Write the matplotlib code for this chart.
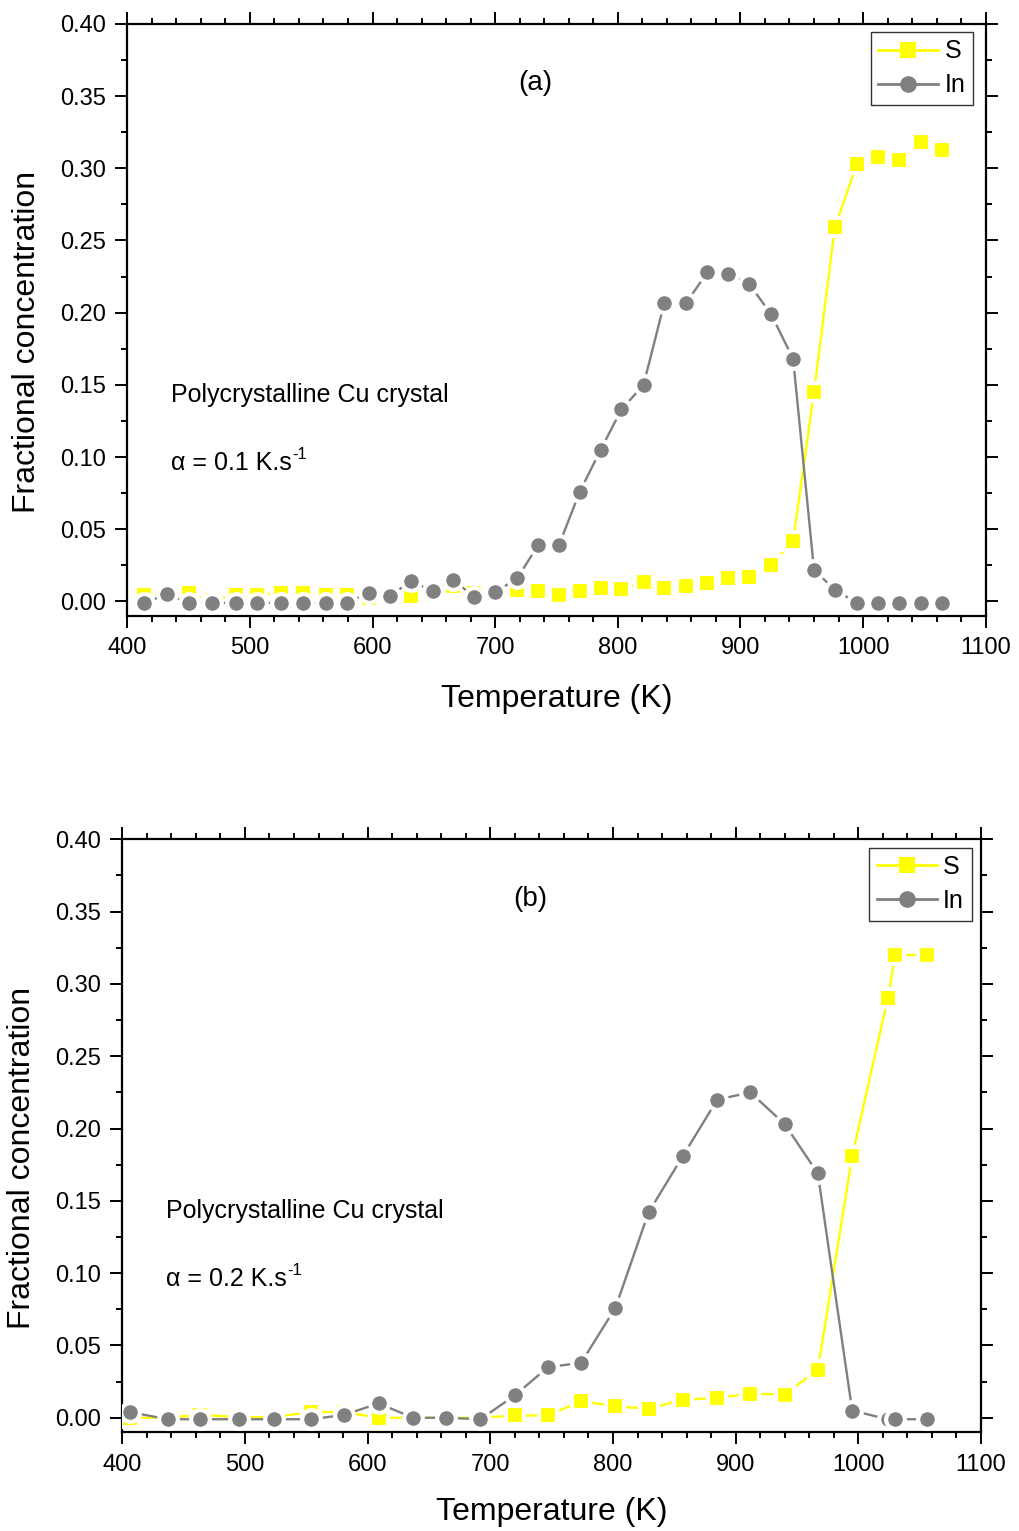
import matplotlib
matplotlib.use("Agg")
import matplotlib.pyplot as plt
from matplotlib.ticker import MultipleLocator, FormatStrFormatter

plt.rcParams['font.family'] = ['Liberation Sans', 'DejaVu Sans']
plt.rcParams['mathtext.default'] = 'regular'

# ---- Panel (a): alpha = 0.1 K/s ----
temp_a = [414, 432, 450, 469, 489, 506, 525, 543, 562, 579, 597, 614, 631, 649,
          666, 683, 700, 718, 735, 752, 769, 786, 803, 821, 838, 856, 873, 890,
          907, 925, 943, 960, 977, 995, 1012, 1029, 1047, 1064]
s_a = [0.0046, 0.005, 0.006, 0.001, 0.0046, 0.0046, 0.006, 0.006, 0.0046, 0.0046,
       0.0023, 0.0046, 0.0035, 0.007, 0.0104, 0.006, 0.006, 0.008, 0.007, 0.0046,
       0.007, 0.0093, 0.0086, 0.0134, 0.0093, 0.0104, 0.0127, 0.0162, 0.0169,
       0.0254, 0.042, 0.145, 0.259, 0.303, 0.308, 0.306, 0.318, 0.313]
in_a = [-0.001, 0.005, -0.001, -0.001, -0.001, -0.001, -0.001, -0.001, -0.001, -0.001,
        0.006, 0.0035, 0.014, 0.0074, 0.015, 0.003, 0.0065, 0.016, 0.039, 0.039,
        0.076, 0.105, 0.133, 0.150, 0.207, 0.207, 0.228, 0.227, 0.220, 0.199,
        0.168, 0.022, 0.008, -0.001, -0.001, -0.001, -0.001, -0.001]

# ---- Panel (b): alpha = 0.2 K/s ----
temp_b = [406, 437, 463, 495, 524, 554, 581, 609, 637, 664, 692, 720, 747, 774,
          802, 829, 857, 885, 912, 940, 967, 995, 1024, 1030, 1056]
s_b = [0.0, 0.0, 0.002, 0.0005, 0.0005, 0.004, 0.004, 0.0, 0.0, 0.0, 0.0, 0.0016,
       0.0016, 0.0115, 0.008, 0.0062, 0.0125, 0.0138, 0.0166, 0.0161, 0.0332,
       0.181, 0.290, 0.320, 0.320]
in_b = [0.004, -0.001, -0.001, -0.001, -0.001, -0.001, 0.002, 0.010, 0.0, 0.0,
        -0.001, 0.0155, 0.035, 0.038, 0.076, 0.142, 0.181, 0.220, 0.225, 0.203,
        0.169, 0.005, -0.001, -0.001, -0.001]

series_labels = ["S", "In"]
panel_tags = ["(a)", "(b)"]
rate_texts = ["α = 0.1 K.s", "α = 0.2 K.s"]
rate_exponent = "-1"
sample_text = "Polycrystalline Cu crystal"
xlabel = "Temperature (K)"
ylabel = "Fractional concentration"

YELLOW = "#FFFF00"
GRAY = "#808080"

fig = plt.figure(figsize=(10.19, 15.31), dpi=100)
ax_a = fig.add_axes([0.1249, 0.5977, 0.8424, 0.3867])
ax_b = fig.add_axes([0.1200, 0.0645, 0.8427, 0.3873])

panels = [
    (ax_a, temp_a, s_a, in_a, (0.985, 0.9865), -0.140),
    (ax_b, temp_b, s_b, in_b, (0.989, 0.986), -0.135),
]

for i, (ax, t, s, ind, leg_anchor, xl_y) in enumerate(panels):
    ax.plot(t, s, color=YELLOW, lw=1.7, marker='s', ms=12.5, mfc=YELLOW,
            mec='white', mew=3.0, label=series_labels[0], zorder=3)
    ax.plot(t, ind, color=GRAY, lw=1.7, marker='o', ms=13.5, mfc=GRAY,
            mec='white', mew=3.0, label=series_labels[1], zorder=4)

    ax.set_xlim(400, 1100)
    ax.set_ylim(-0.01, 0.40)
    ax.xaxis.set_major_locator(MultipleLocator(100))
    ax.xaxis.set_minor_locator(MultipleLocator(20))
    ax.yaxis.set_major_locator(MultipleLocator(0.05))
    ax.yaxis.set_minor_locator(MultipleLocator(0.025))
    ax.yaxis.set_major_formatter(FormatStrFormatter('%.2f'))
    ax.tick_params(which='both', direction='out', top=True, right=True,
                   width=1.4, labelsize=17)
    ax.tick_params(which='major', length=8.5)
    ax.tick_params(which='minor', length=4.3)
    ax.tick_params(axis='y', pad=7)
    ax.tick_params(axis='x', pad=7)
    for sp in ax.spines.values():
        sp.set_linewidth(1.6)

    ax.text(0.5005, xl_y, xlabel, transform=ax.transAxes,
            ha='center', va='center', fontsize=23)
    ax.text(-0.1168, 0.463, ylabel, transform=ax.transAxes, rotation=90,
            ha='center', va='center', fontsize=23)

    ax.text(732.5, 0.359, panel_tags[i], ha='center', va='center', fontsize=20)
    ax.text(435.6, 0.143, sample_text, ha='left', va='center', fontsize=18)
    rt = ax.text(435.6, 0.096, rate_texts[i], ha='left', va='center', fontsize=18)
    ax.annotate(rate_exponent, xy=(1.0, 1.0), xycoords=rt,
                xytext=(0.5, 2.5), textcoords='offset points',
                ha='left', va='top', fontsize=12)

    leg = ax.legend(loc='upper right', bbox_to_anchor=leg_anchor,
                    borderaxespad=0, fontsize=18, handlelength=2.4,
                    handletextpad=0.25, labelspacing=0.4, borderpad=0.3,
                    fancybox=False, framealpha=1, edgecolor='#333333')
    leg.get_frame().set_linewidth(1.0)
    for h in leg.legend_handles:
        h.set_markeredgewidth(0)
        h.set_markersize(12)
        h.set_linewidth(2.0)

fig.savefig("out.png", dpi=100)
